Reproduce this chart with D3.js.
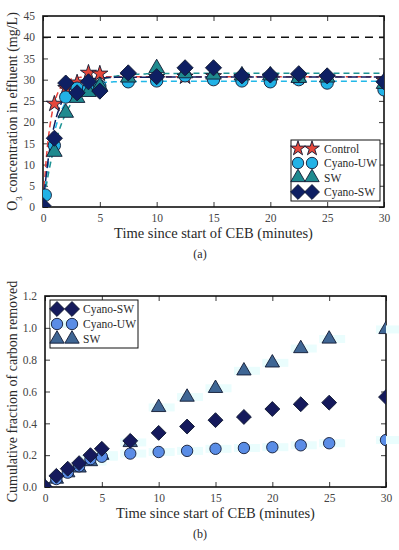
<!DOCTYPE html>
<meta charset="utf-8">
<style>
  body { margin: 0; background: #fff; }
  text { font-family: "Liberation Serif", "DejaVu Serif", serif; font-weight: normal; fill: #2a2a2a; }
</style>
<body>
<svg id="chart" width="399" height="550"></svg>
<script src="https://d3js.org/d3.v7.min.js"></script>
<script>

// ---- panel (a): O3 in effluent ----
var timesA   = [0, 0.2, 1, 2, 3, 4, 5, 7.5, 10, 12.5, 15, 17.5, 20, 22.5, 25, 30];
var controlA = [null, null, 24.3, 28.0, 29.3, 31.6, 31.4, 30.8, 30.6, 30.7, 30.8, 30.6, 30.7, 30.6, 30.5, 29.8];
var cyanoUWA = [null, 2.8, 14.5, 25.9, 28.0, 27.8, 28.5, 29.5, 29.7, 30.9, 30.0, 29.7, 29.5, 30.0, 29.2, 27.6];
var swA      = [null, null, 13.0, 22.2, 25.7, 27.1, 28.5, 30.5, 32.7, 31.5, 31.2, 31.0, 31.0, 30.4, 30.5, 29.0];
var cyanoSWA = [0.3, null, 16.2, 29.2, 26.9, 29.5, 27.3, 31.6, 30.7, 32.8, 32.8, 30.9, 31.1, 31.4, 30.9, 29.5];
var inletO3 = 40;

// fitted rise curves  C = max * (1 - exp(-k t))
var fitNames = ["Control", "Cyano-UW", "SW", "Cyano-SW"];
var fitMax   = [30.7, 29.6, 31.5, 30.6];
var fitRate  = [1.6, 0.9, 0.6, 1.0];

var ticksA = [0, 5, 10, 15, 20, 25, 30, 35, 40, 45];

// ---- panel (b): cumulative carbon removed ----
var timesB    = [0, 1, 2, 3, 4, 5, 7.5, 10, 12.5, 15, 17.5, 20, 22.5, 25, 30];
var cyanoSWB  = [0, 0.07, 0.115, 0.15, 0.20, 0.24, 0.29, 0.34, 0.38, 0.42, 0.44, 0.49, 0.52, 0.53, 0.565];
var cyanoUWB  = [0, 0.05, 0.09, 0.13, 0.175, 0.19, 0.21, 0.22, 0.227, 0.24, 0.245, 0.25, 0.262, 0.275, 0.295];
var swB       = [0, 0.05, 0.09, 0.12, 0.16, 0.20, 0.28, 0.50, 0.565, 0.62, 0.73, 0.78, 0.87, 0.93, 0.99];
var ticksB = [0, 0.2, 0.4, 0.6, 0.8, 1.0, 1.2];

var timeTicks = [0, 5, 10, 15, 20, 25, 30];

var svg = d3.select("#chart");
svg.append("rect").attr("width", 399).attr("height", 550).attr("fill", "#fff");

var diamond = function(size){ return d3.symbol().type(d3.symbolSquare).size(size)(); };

function panel(opts) {
  var g = svg.append("g");
  var x = d3.scaleLinear().domain([0, 30]).range([opts.left, opts.right]);
  var y = d3.scaleLinear().domain(opts.ydomain).range([opts.bottom, opts.top]);

  var clipId = "clip-" + opts.id;
  svg.append("clipPath").attr("id", clipId).append("rect")
    .attr("x", opts.left).attr("y", opts.top)
    .attr("width", opts.right - opts.left).attr("height", opts.bottom - opts.top);

  // inward ticks on all four sides
  var tl = 5;
  g.append("g").attr("transform", "translate(0," + opts.bottom + ")")
    .call(d3.axisBottom(x).tickValues(timeTicks).tickSizeInner(-tl).tickSizeOuter(0).tickPadding(7).tickFormat(d3.format("d")));
  g.append("g").attr("transform", "translate(0," + opts.top + ")")
    .call(d3.axisTop(x).tickValues(timeTicks).tickSizeInner(-tl).tickSizeOuter(0).tickFormat(""));
  g.append("g").attr("transform", "translate(" + opts.left + ",0)")
    .call(d3.axisLeft(y).tickValues(opts.yticks).tickSizeInner(-tl).tickSizeOuter(0).tickPadding(8).tickFormat(opts.yfmt));
  g.append("g").attr("transform", "translate(" + opts.right + ",0)")
    .call(d3.axisRight(y).tickValues(opts.yticks).tickSizeInner(-tl).tickSizeOuter(0).tickFormat(""));
  g.selectAll(".domain").remove();
  g.selectAll(".tick line").attr("stroke", "#222").attr("stroke-width", 0.9);
  g.selectAll(".tick text").style("font-size", "11.5px").style("fill", "#444");

  g.append("rect").attr("x", opts.left).attr("y", opts.top)
    .attr("width", opts.right - opts.left).attr("height", opts.bottom - opts.top)
    .attr("fill", "none").attr("stroke", "#111").attr("stroke-width", 1.6);

  g.append("text").attr("x", (opts.left + opts.right) / 2).attr("y", opts.bottom + 31)
    .attr("text-anchor", "middle").style("font-size", "14.5px")
    .text("Time since start of CEB (minutes)");
  g.append("text").attr("x", 200).attr("y", opts.bottom + 51)
    .attr("text-anchor", "middle").style("font-size", "12px").text(opts.tag);

  return {g: g, x: x, y: y, clip: "url(#" + clipId + ")"};
}

// ===== panel (a) =====
var A = panel({id: "a", left: 43, right: 384, top: 16, bottom: 207, ydomain: [0, 45],
  yticks: ticksA, yfmt: d3.format("d"), tag: "(a)"});

var yl = A.g.append("text").attr("transform", "translate(17," + ((16 + 207) / 2) + ") rotate(-90)")
  .attr("text-anchor", "middle").style("font-size", "14px");
yl.append("tspan").text("O");
yl.append("tspan").attr("baseline-shift", "sub").style("font-size", "9px").text("3");
yl.append("tspan").text(" concentration in effluent (mg/L)");

var plotA = A.g.append("g").attr("clip-path", A.clip);

plotA.append("line").attr("x1", A.x(0)).attr("x2", A.x(30))
  .attr("y1", A.y(inletO3)).attr("y2", A.y(inletO3))
  .attr("stroke", "#111").attr("stroke-width", 1.6).attr("stroke-dasharray", "8,6");

var seriesA = [
  {name: "Control",  vals: controlA, fill: "#e5473b", line: "#e8413a", shape: "star"},
  {name: "Cyano-UW", vals: cyanoUWA, fill: "#22b2e6", line: "#22b8e8", shape: "circle"},
  {name: "SW",       vals: swA,      fill: "#1f8a8f", line: "#1d9394", shape: "triangle"},
  {name: "Cyano-SW", vals: cyanoSWA, fill: "#0e1f63", line: "#0e1f63", shape: "diamond"}
];

var tGrid = d3.range(0, 30.01, 0.1);
var fitLine = d3.line().x(function(d){ return A.x(d[0]); }).y(function(d){ return A.y(d[1]); });
seriesA.forEach(function(s, i) {
  var pts = tGrid.map(function(t){ return [t, fitMax[i] * (1 - Math.exp(-fitRate[i] * t))]; });
  plotA.append("path").attr("d", fitLine(pts)).attr("fill", "none")
    .attr("stroke", s.line).attr("stroke-width", 1.5)
    .attr("stroke-dasharray", s.shape === "diamond" ? "10,3" : "6,4");
});

function markerPath(shape, big) {
  var k = big ? 1 : 0.85;
  if (shape === "star") return d3.symbol().type(d3.symbolStar).size(80 * k)();
  if (shape === "circle") return d3.symbol().type(d3.symbolCircle).size(120 * k)();
  if (shape === "triangle") return d3.symbol().type(d3.symbolTriangle).size(105 * k)();
  return diamond(130 * k);
}

function drawMarkers(layer, sc, times, vals, s, big) {
  var pts = times.map(function(t, i){ return {t: t, v: vals[i]}; })
    .filter(function(d){ return d.v !== null; });
  layer.selectAll(null).data(pts).enter().append("path")
    .attr("d", markerPath(s.shape, big))
    .attr("transform", function(d){
      return "translate(" + sc.x(d.t) + "," + sc.y(d.v) + ")" + (s.shape === "diamond" ? " rotate(45)" : "");
    })
    .attr("fill", s.fill).attr("stroke", "#111a33").attr("stroke-width", 0.9);
}

seriesA.forEach(function(s){ drawMarkers(plotA, A, timesA, s.vals, s, true); });

// legend (a)
var lgA = A.g.append("g").attr("transform", "translate(291,140)");
lgA.append("rect").attr("width", 89).attr("height", 61).attr("fill", "#fff")
  .attr("stroke", "#111").attr("stroke-width", 1);
seriesA.forEach(function(s, i) {
  var yy = 8.5 + i * 14.5;
  if (s.shape === "diamond") {
    lgA.append("line").attr("x1", 7).attr("x2", 21).attr("y1", yy).attr("y2", yy)
      .attr("stroke", s.line).attr("stroke-width", 1.5);
  }
  [7, 21].forEach(function(xx){
    lgA.append("path").attr("d", markerPath(s.shape, false))
      .attr("transform", "translate(" + xx + "," + yy + ")" + (s.shape === "diamond" ? " rotate(45)" : ""))
      .attr("fill", s.fill).attr("stroke", "#111a33").attr("stroke-width", 0.9);
  });
  lgA.append("text").attr("x", 33).attr("y", yy + 4).style("font-size", "11.5px").text(s.name);
});

// ===== panel (b) =====
var B = panel({id: "b", left: 45, right: 386, top: 296, bottom: 487, ydomain: [0, 1.2],
  yticks: ticksB, yfmt: d3.format(".1f"), tag: "(b)"});

B.g.append("text").attr("transform", "translate(17," + ((296 + 487) / 2) + ") rotate(-90)")
  .attr("text-anchor", "middle").style("font-size", "14px")
  .text("Cumulative fraction of carbon removed");

var seriesB = [
  {name: "Cyano-SW", vals: cyanoSWB, fill: "#151a5c", shape: "diamond"},
  {name: "Cyano-UW", vals: cyanoUWB, fill: "#5a8de6", shape: "circle"},
  {name: "SW",       vals: swB,      fill: "#3f6694", shape: "triangle"}
];

// pale cyan smears behind the later markers
var haloLayer = B.g.append("g");
[seriesB[1], seriesB[2]].forEach(function(s) {
  timesB.forEach(function(t, i) {
    if (t < 4) return;
    haloLayer.append("rect")
      .attr("x", B.x(t) - 10).attr("y", B.y(s.vals[i]) - 4)
      .attr("width", 26).attr("height", 8)
      .attr("fill", "#eafdfd");
  });
});

var plotB = B.g.append("g").attr("clip-path", B.clip);
[seriesB[2], seriesB[1], seriesB[0]].forEach(function(s){ drawMarkers(plotB, B, timesB, s.vals, s, false); });

var lgB = B.g.append("g").attr("transform", "translate(50,300)");
lgB.append("rect").attr("width", 88).attr("height", 48).attr("fill", "#fff")
  .attr("stroke", "#111").attr("stroke-width", 1);
seriesB.forEach(function(s, i) {
  var yy = 9 + i * 15;
  if (s.shape === "circle") {
    lgB.append("rect").attr("x", 0).attr("y", yy - 4).attr("width", 28).attr("height", 8).attr("fill", "#e2fbfb");
  }
  [7, 22].forEach(function(xx){
    lgB.append("path").attr("d", markerPath(s.shape, false))
      .attr("transform", "translate(" + xx + "," + yy + ")" + (s.shape === "diamond" ? " rotate(45)" : ""))
      .attr("fill", s.fill).attr("stroke", "#111a33").attr("stroke-width", 0.9);
  });
  lgB.append("text").attr("x", 33).attr("y", yy + 4).style("font-size", "11.5px").text(s.name);
});

</script>
</body>
